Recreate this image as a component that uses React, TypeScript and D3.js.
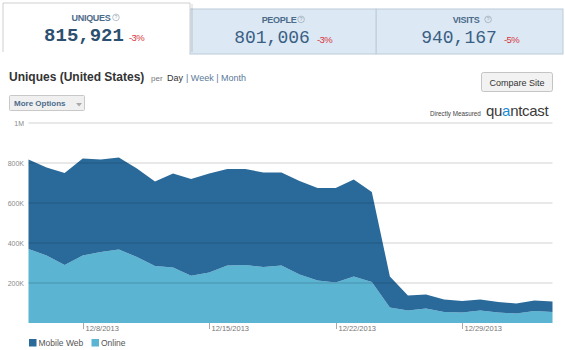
import React from "react";
import { scaleTime, scaleLinear, area, stack, timeParse, timeWeek } from "d3";

// daily uniques, 12/5/2013 .. 1/3/2014
const days = [
  "2013-12-05", "2013-12-06", "2013-12-07", "2013-12-08", "2013-12-09", "2013-12-10",
  "2013-12-11", "2013-12-12", "2013-12-13", "2013-12-14", "2013-12-15", "2013-12-16",
  "2013-12-17", "2013-12-18", "2013-12-19", "2013-12-20", "2013-12-21", "2013-12-22",
  "2013-12-23", "2013-12-24", "2013-12-25", "2013-12-26", "2013-12-27", "2013-12-28",
  "2013-12-29", "2013-12-30", "2013-12-31", "2014-01-01", "2014-01-02", "2014-01-03",
];
const online = [
  370000, 338000, 290000, 338000, 355000, 368000, 330000, 285000, 278000, 236000,
  252000, 288000, 290000, 280000, 287000, 243000, 213000, 202000, 233000, 205000,
  77000, 63000, 72000, 55000, 53000, 62000, 53000, 47000, 60000, 55000,
];
const mobileWeb = [
  447000, 439000, 460000, 484000, 462000, 460000, 442000, 423000, 469000, 484000,
  495000, 482000, 480000, 473000, 466000, 467000, 462000, 473000, 485000, 450000,
  156000, 75000, 71000, 63000, 57000, 56000, 52000, 50000, 53000, 52000,
];
const yTicks = [200000, 400000, 600000, 800000, 1000000];
const yLabels = ["200K", "400K", "600K", "800K", "1M"];

const tabs = [
  { label: "UNIQUES", value: "815,921", change: "-3%" },
  { label: "PEOPLE", value: "801,006", change: "-3%" },
  { label: "VISITS", value: "940,167", change: "-5%" },
];

const seriesNames = ["Online", "Mobile Web"];
const colors: Record<string, string> = { Online: "#5ab4d2", "Mobile Web": "#2a6a9b" };

const parse = timeParse("%Y-%m-%d");
const rows = days.map((d, i) => ({ date: parse(d)!, Online: online[i], "Mobile Web": mobileWeb[i] }));

const sans = "'Liberation Sans', Arial, sans-serif";
const mono = "'Liberation Mono', 'Courier New', monospace";

function Tabs() {
  return (
    <g>
      <rect x={376} y={9} width={187} height={45} fill="#dce8f4" stroke="#bccbd9" />
      <rect x={190} y={9} width={186} height={45} fill="#dce8f4" stroke="#bccbd9" />
      <rect x={191} y={4} width={2} height={48} fill="#000" opacity={0.08} />
      <path d="M3,52 V3 H190 V52" fill="#fff" stroke="#cfcfcf" />
      {tabs.map((t, i) => {
        const cx = i === 0 ? 95 : i === 1 ? 283 : 470;
        const bold = i === 0;
        const ly = i === 0 ? 21 : 23;
        const ny = i === 0 ? 40.5 : 42.5;
        const half = (t.label.length * 5.7) / 2;
        return (
          <g key={t.label}>
            <text x={cx - 4} y={ly} textAnchor="middle" fontFamily={sans}
              fontSize={9} fontWeight="bold" fill="#4c6b8a" letterSpacing={-0.3}>
              {t.label}
            </text>
            <circle cx={cx - 4 + half + 5} cy={ly - 3.6} r={3.3}
              fill="none" stroke="#9aa7b3" strokeWidth={0.7} />
            <text x={cx - 4 + half + 5} y={ly - 1.6} textAnchor="middle"
              fontFamily={sans} fontSize={5} fill="#9aa7b3">?</text>
            <text x={cx - 11} y={ny} textAnchor="middle" fontFamily={mono}
              fontSize={bold ? 19 : 18} fontWeight={bold ? "bold" : "normal"}
              fill={bold ? "#2c4f70" : "#3a5f84"}>
              {t.value}
            </text>
            <text x={cx + 34} y={ny} fontFamily={sans} fontSize={9.5}
              fill="#d8343d" letterSpacing={-0.6}>
              {t.change}
            </text>
          </g>
        );
      })}
    </g>
  );
}

function Header() {
  return (
    <g fontFamily={sans}>
      <text x={9} y={81} fontSize={12} fontWeight="bold" fill="#333">Uniques (United States)</text>
      <text x={151} y={81} fontSize={8} fill="#777">per</text>
      <text x={167} y={81} fontSize={9} fill="#333">Day</text>
      <text x={186} y={81} fontSize={9} fill="#5b7a99">| Week | Month</text>

      <rect x={9.5} y={95.5} width={75} height={15} rx={1} fill="#f0f0f0" stroke="#c8c8c8" />
      <text x={14} y={106} fontSize={8} fontWeight="bold" fill="#4d6c8c">More Options</text>
      <path d="M76,103 L82,103 L79,106.5 Z" fill="#aaa" />

      <rect x={481.5} y={72.5} width={71} height={19} rx={2} fill="#f2f2f2" stroke="#c4c4c4" />
      <text x={517} y={86} textAnchor="middle" fontSize={9} fill="#333">Compare Site</text>

      <text x={430} y={116} fontSize={6.3} fill="#444">Directly Measured</text>
      <text x={486} y={116} fontSize={15} fill="#3a3a3a" letterSpacing={-0.3}>
        qu<tspan fill="#1b8bd6">a</tspan>ntcast
      </text>
    </g>
  );
}

function Chart() {
  const x = scaleTime()
    .domain([rows[0].date, rows[rows.length - 1].date])
    .range([28.5, 552.5]);
  const y = scaleLinear().domain([0, 1000000]).range([323, 123]);

  const layers = stack<any>().keys(seriesNames)(rows);
  const areaGen = area<any>()
    .x((d) => x(d.data.date))
    .y0((d) => y(d[0]))
    .y1((d) => y(d[1]));

  const weeks = timeWeek.range(rows[0].date, rows[rows.length - 1].date);

  return (
    <g>
      {layers.map((l) => (
        <path key={l.key} d={areaGen(l) || ""} fill={colors[l.key]} />
      ))}
      {yTicks.map((t, i) => (
        <g key={t}>
          <line x1={28.5} x2={552.5} y1={y(t)} y2={y(t)} stroke="#000" strokeOpacity={0.12} strokeWidth={1.6} />
          <text x={24} y={y(t) + 2.5} textAnchor="end" fontFamily={sans} fontSize={7} fill="#8a8a8a">
            {yLabels[i]}
          </text>
        </g>
      ))}
      {weeks.map((w) => (
        <g key={+w} transform={`translate(${Math.round(x(w)) + 0.5},0)`}>
          <line y1={323} y2={329} stroke="#aaa" />
          <text x={2} y={331} fontFamily={sans} fontSize={7.5} fill="#777">
            {`${w.getMonth() + 1}/${w.getDate()}/${w.getFullYear()}`}
          </text>
        </g>
      ))}
      <g fontFamily={sans} fontSize={8.5} fill="#555">
        <rect x={29} y={339} width={7.5} height={7.5} fill={colors["Mobile Web"]} />
        <text x={38.5} y={346}>Mobile Web</text>
        <rect x={91.5} y={339} width={7.5} height={7.5} fill={colors["Online"]} />
        <text x={101} y={346}>Online</text>
      </g>
    </g>
  );
}

export default function App() {
  return (
    <svg width={565} height={350} style={{ position: "absolute", left: 0, top: 0, background: "#fff" }}>
      <Tabs />
      <Header />
      <Chart />
    </svg>
  );
}
